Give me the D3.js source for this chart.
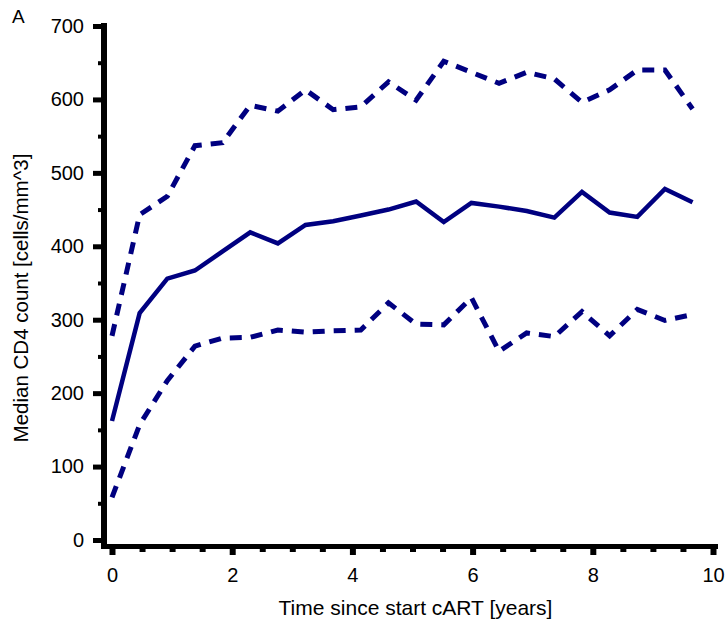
<!DOCTYPE html>
<html>
<head>
<meta charset="utf-8">
<script src="https://cdn.jsdelivr.net/npm/d3@7"></script>
<style>
  html, body { margin: 0; padding: 0; background: #fff; }
  svg { display: block; font-family: "Liberation Sans", Arial, Helvetica, sans-serif; }
</style>
</head>
<body>
<svg id="chart" width="728" height="621"></svg>
<script>
// Visit times (years since start of cART), every 24 weeks
const years = [0, 0.46, 0.92, 1.38, 1.84, 2.30, 2.76, 3.22, 3.68, 4.14, 4.60,
               5.06, 5.52, 5.98, 6.44, 6.90, 7.36, 7.82, 8.28, 8.74, 9.20, 9.66];

// Median CD4 count and interquartile bounds (cells/mm^3)
const median = [162, 309, 356, 367, 393, 419, 404, 429, 434, 442, 450,
                461, 433, 459, 454, 448, 439, 474, 446, 440, 478, 460];
const upperQ = [278, 443, 468, 537, 541, 592, 584, 613, 586, 590, 624,
                599, 652, 637, 622, 637, 628, 596, 613, 640, 640, 587];
const lowerQ = [58, 157, 217, 264, 275, 276, 286, 283, 285, 286, 323,
                294, 293, 330, 257, 282, 277, 311, 278, 314, 299, 307];

const yMajorTicks = [0, 100, 200, 300, 400, 500, 600, 700];
const yMinorTicks = [50, 150, 250, 350, 450, 550, 650];
const xMajorTicks = [0, 2, 4, 6, 8, 10];
const xMinorTicks = [0.5, 1, 1.5, 2.5, 3, 3.5, 4.5, 5, 5.5, 6.5, 7, 7.5, 8.5, 9, 9.5];

const panelLabel = "A";
const xTitle = "Time since start cART [years]";
const yTitle = "Median CD4 count [cells/mm^3]";

const lineColor = "#000080";

const svg = d3.select("#chart");

const x = d3.scaleLinear().domain([0, 10]).range([112, 713]);
const y = d3.scaleLinear().domain([0, 700]).range([540, 26]);

const axisX0 = 101;   // left edge of the vertical axis bar
const axisY0 = 549;   // bottom edge of the horizontal axis bar

// Y axis: minor and major ticks
const yMinor = svg.append("g")
  .attr("transform", `translate(${axisX0},0)`)
  .call(d3.axisLeft(y).tickValues(yMinorTicks).tickSize(3).tickFormat(""));
yMinor.select(".domain").remove();
yMinor.selectAll(".tick line").attr("stroke", "#000").attr("stroke-width", 4);

const yMajor = svg.append("g")
  .attr("transform", `translate(${axisX0},0)`)
  .call(d3.axisLeft(y).tickValues(yMajorTicks).tickSize(8).tickPadding(9));
yMajor.select(".domain").remove();
yMajor.selectAll(".tick line").attr("stroke", "#000").attr("stroke-width", 5);
yMajor.selectAll(".tick text")
  .attr("fill", "#000").style("font-size", "20px")
  .style("font-family", "'Liberation Sans', Arial, sans-serif");

// X axis: minor and major ticks
const xMinor = svg.append("g")
  .attr("transform", `translate(0,${axisY0})`)
  .call(d3.axisBottom(x).tickValues(xMinorTicks).tickSize(3).tickFormat(""));
xMinor.select(".domain").remove();
xMinor.selectAll(".tick line").attr("stroke", "#000").attr("stroke-width", 6);

const xMajor = svg.append("g")
  .attr("transform", `translate(0,${axisY0})`)
  .call(d3.axisBottom(x).tickValues(xMajorTicks).tickSize(6).tickPadding(13));
xMajor.select(".domain").remove();
xMajor.selectAll(".tick line").attr("stroke", "#000").attr("stroke-width", 6);
xMajor.selectAll(".tick text")
  .attr("fill", "#000").style("font-size", "20px")
  .style("font-family", "'Liberation Sans', Arial, sans-serif");

// Axis bars
svg.append("line")
  .attr("x1", axisX0 + 3).attr("x2", axisX0 + 3)
  .attr("y1", 23).attr("y2", axisY0)
  .attr("stroke", "#000").attr("stroke-width", 6);
svg.append("line")
  .attr("x1", axisX0).attr("x2", 718)
  .attr("y1", axisY0 - 2.5).attr("y2", axisY0 - 2.5)
  .attr("stroke", "#000").attr("stroke-width", 5);

// Series lines
const line = d3.line()
  .x((d, i) => x(years[i]))
  .y(d => y(d));

const series = [
  { values: upperQ, dash: "12,9", width: 5 },
  { values: lowerQ, dash: "12,9", width: 5 },
  { values: median, dash: null, width: 4.5 }
];

svg.append("g").selectAll("path")
  .data(series)
  .join("path")
  .attr("d", d => line(d.values))
  .attr("fill", "none")
  .attr("stroke", lineColor)
  .attr("stroke-width", d => d.width)
  .attr("stroke-dasharray", d => d.dash)
  .attr("stroke-linejoin", "miter");

// Titles
svg.append("text")
  .attr("x", (x(0) + x(10)) / 2 + 3)
  .attr("y", 615)
  .attr("text-anchor", "middle")
  .style("font-size", "21px")
  .text(xTitle);

svg.append("text")
  .attr("transform", "translate(28,298) rotate(-90)")
  .attr("text-anchor", "middle")
  .style("font-size", "20.5px")
  .text(yTitle);

svg.append("text")
  .attr("x", 12)
  .attr("y", 23)
  .style("font-size", "19px")
  .text(panelLabel);
</script>
</body>
</html>
